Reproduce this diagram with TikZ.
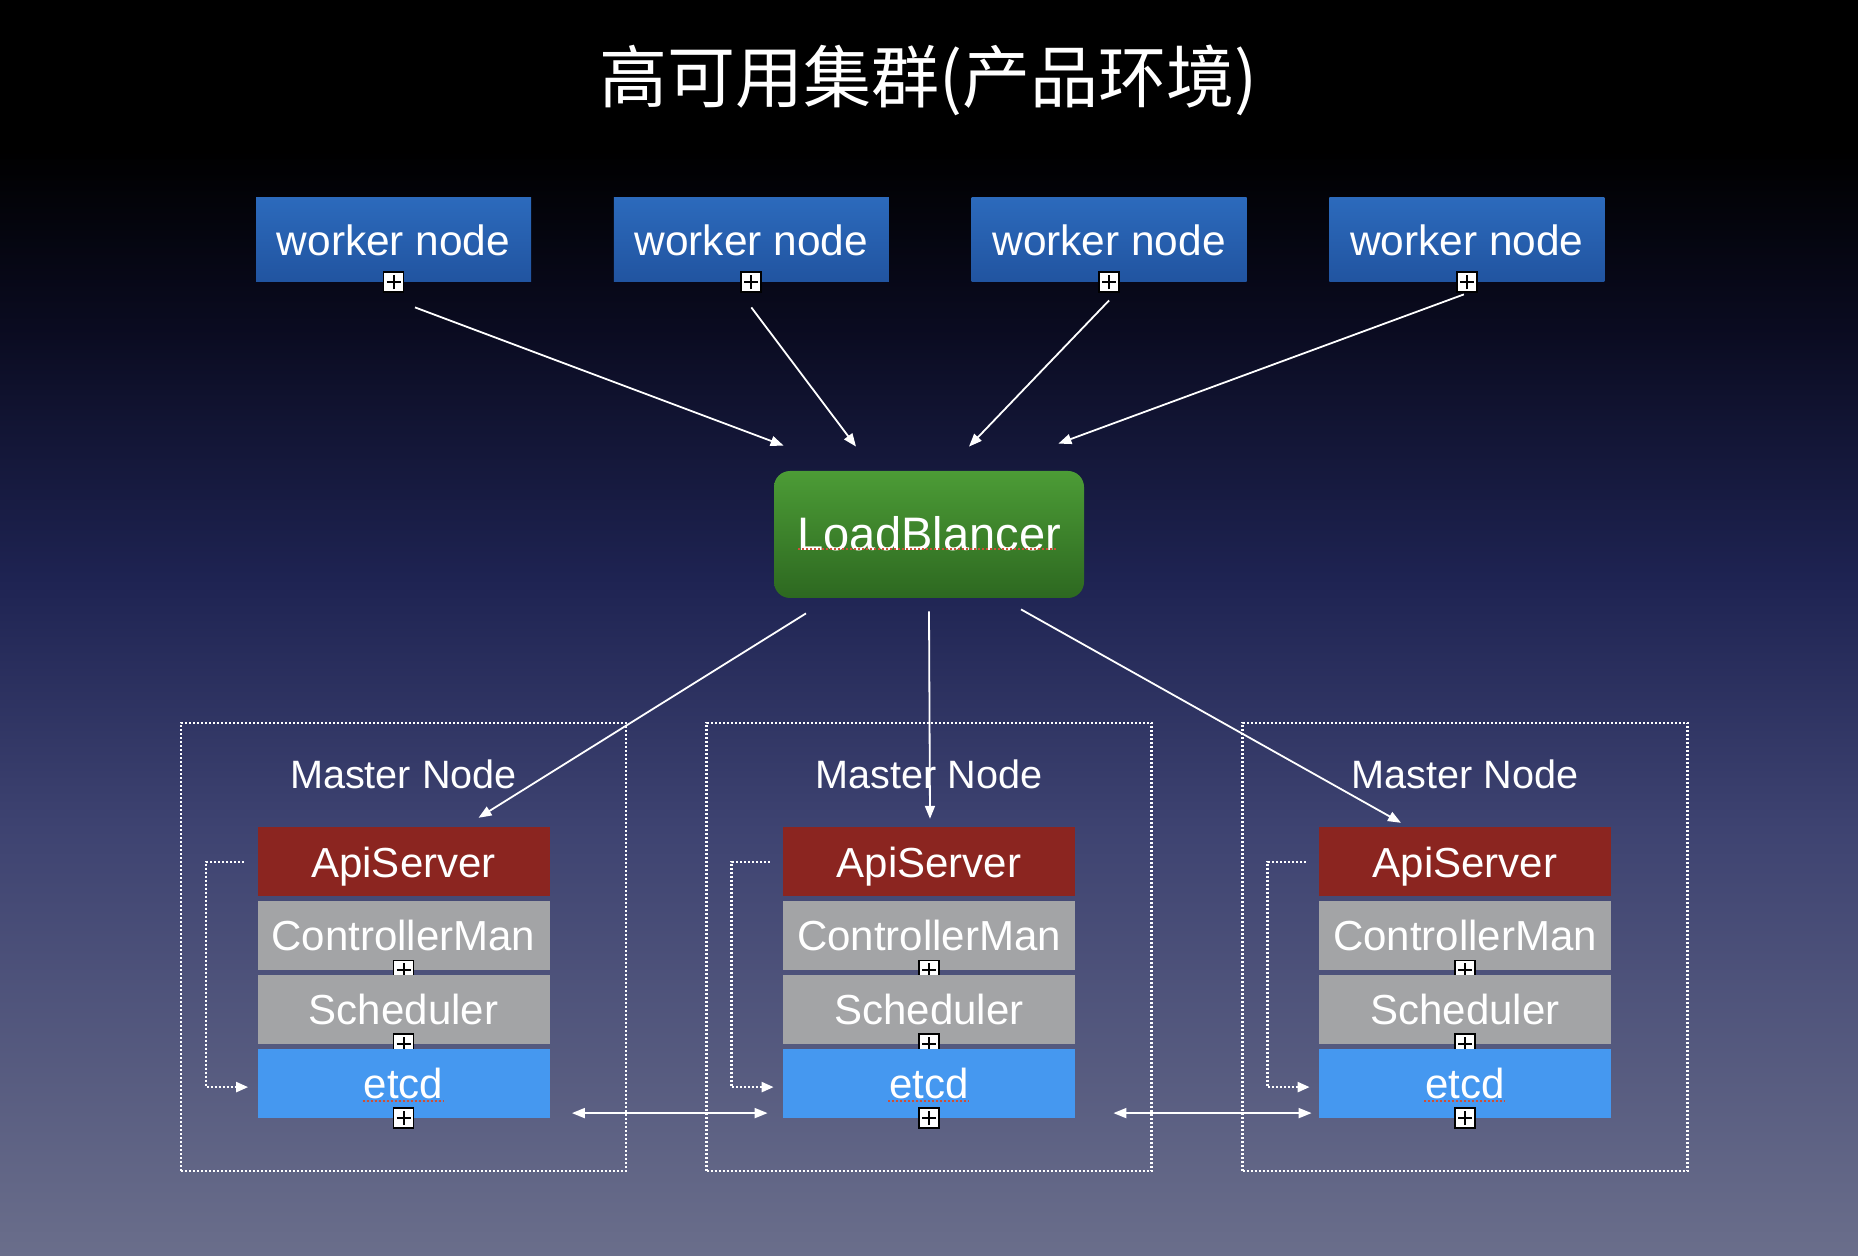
\documentclass[tikz,border=0pt]{standalone}
\usepackage{fontspec}
\setmainfont{Liberation Sans}
\newfontfamily\cjk{Noto Sans CJK SC}
\usetikzlibrary{positioning, arrows.meta}

\definecolor{bgA}{RGB}{0,0,0}
\definecolor{bgB}{RGB}{10,11,32}
\definecolor{bgC}{RGB}{30,35,82}
\definecolor{bgD}{RGB}{62,67,113}
\definecolor{bgE}{RGB}{106,110,139}
\definecolor{workerTop}{RGB}{44,106,188}
\definecolor{workerBot}{RGB}{33,84,160}
\definecolor{lbTop}{RGB}{76,156,54}
\definecolor{lbBot}{RGB}{45,104,32}
\definecolor{apiRed}{RGB}{139,37,32}
\definecolor{partGray}{RGB}{163,164,166}
\definecolor{etcdBlue}{RGB}{69,152,240}
\definecolor{spellRed}{RGB}{205,80,55}

\pgfdeclareverticalshading{bgshade}{100bp}{color(0bp)=(bgE); color(25bp)=(bgE);
  color(42bp)=(bgD); color(52bp)=(bgC); color(62bp)=(bgB); color(69bp)=(bgA);
  color(75bp)=(bgA); color(100bp)=(bgA)}

\tikzset{
  worker/.style={top color=workerTop, bottom color=workerBot, text=white,
    minimum width=137.5pt, minimum height=42pt, inner sep=0pt,
    text height=15.2pt, text depth=0pt, font=\fontsize{21.2}{26}\selectfont},
  balancer/.style={top color=lbTop, bottom color=lbBot, text=white, rounded corners=8pt,
    minimum width=155pt, minimum height=63.5pt, inner sep=0pt,
    text height=16pt, text depth=0pt, font=\fontsize{23.5}{28}\selectfont},
  master/.style={draw=white, line width=1.2pt, dash pattern=on 1pt off 1pt,
    minimum width=222.5pt, minimum height=224pt},
  mlabel/.style={text=white, inner sep=0pt, font=\fontsize{19.8}{24}\selectfont},
  part/.style={minimum width=146pt, minimum height=34.5pt, inner sep=0pt, text=white,
    text height=15.4pt, text depth=0pt, font=\fontsize{21}{25}\selectfont},
  plus/.style={draw=black, line width=0.9pt, fill=white, minimum size=10pt, inner sep=0pt,
    path picture={\draw[black, line width=1pt]
      ([xshift=-3.5pt]path picture bounding box.center) -- ([xshift=3.5pt]path picture bounding box.center)
      ([yshift=-3.5pt]path picture bounding box.center) -- ([yshift=3.5pt]path picture bounding box.center);}},
  spell/.style={draw=spellRed, line width=1pt, dash pattern=on 1pt off 1pt},
  link/.style={draw=white, line width=0.9pt, -{Triangle[length=6.5pt,width=5pt]}},
  both/.style={link, {Triangle[length=6.5pt,width=5pt]}-{Triangle[length=6.5pt,width=5pt]}},
  loopback/.style={draw=white, line width=1.2pt, dash pattern=on 1pt off 1pt,
    -{Triangle[length=6pt,width=5pt]}}
}

\begin{document}
\begin{tikzpicture}[x=0.5pt, y=-0.5pt]
    \shade[shading=bgshade] (0,0) rectangle (1858,1256);

    \node[text=white, font=\cjk\fontsize{34}{40}\selectfont] (title) at (928,80) {高可用集群(产品环境)};

    \node[worker] (worker 1) at (393.5,240) {worker node};
    \node[worker,right=41pt of worker 1] (worker 2) {worker node};
    \node[worker,right=41pt of worker 2] (worker 3) {worker node};
    \node[worker,right=41pt of worker 3] (worker 4) {worker node};
    \foreach \i in {1,...,4}
    \node[plus] (wplus \i) at (worker \i.south) {};

    \node[balancer] (lb) at (929,534.5) {LoadBlancer};
    \draw[spell] ([shift={(-131,15)}]lb.center) -- ([shift={(129,15)}]lb.center);

    \foreach \i/\x in {1/403.5,2/929,3/1465} {
        \node[master] (master \i) at (\x,947) {};
        \node[part,fill=apiRed,below=52.5pt of master \i.north] (api \i) {ApiServer};
        \node[mlabel,above=19pt of api \i] (mlabel \i) {Master Node};
        \node[part,fill=partGray,below=2pt of api \i] (ctrl \i) {ControllerMan};
        \node[plus] (cplus \i) at (ctrl \i.south) {};
        \node[part,fill=partGray,below=2pt of ctrl \i] (sched \i) {Scheduler};
        \node[plus] (splus \i) at (sched \i.south) {};
        \node[part,fill=etcdBlue,below=2pt of sched \i] (etcd \i) {etcd};
        \draw[spell] ([shift={(-41,17.5)}]etcd \i.center) -- ([shift={(40,17.5)}]etcd \i.center);
        \node[plus] (eplus \i) at (etcd \i.south) {};
        \draw[loopback] ([xshift=-6.5pt]api \i.west) -- ++(-38,0) |- ([shift={(-9,4)}]etcd \i.west);
    }

    \foreach \i/\s/\t/\a in {1/{21.5,25}/{10,-25}/north west, 2/{0,25}/{-73,-24}/north,
                             3/{0,18}/{40,-24}/north, 4/{-3,12}/{-26,-27}/north east}
    \draw[link] ([shift={(\s)}]worker \i.south) -- ([shift={(\t)}]lb.\a);

    \foreach \i/\s/\t in {1/{-123,15}/{75,-9}, 2/{0,13}/{1,-8}, 3/{92,11}/{-64,-4}}
    \draw[link] ([shift={(\s)}]lb.south) -- ([shift={(\t)}]api \i.north);

    \draw[both] ([shift={(22,30)}]etcd 1.east) -- ([shift={(-15,30)}]etcd 2.west);
    \draw[both] ([shift={(38,30)}]etcd 2.east) -- ([shift={(-7,30)}]etcd 3.west);

\end{tikzpicture}
\end{document}
